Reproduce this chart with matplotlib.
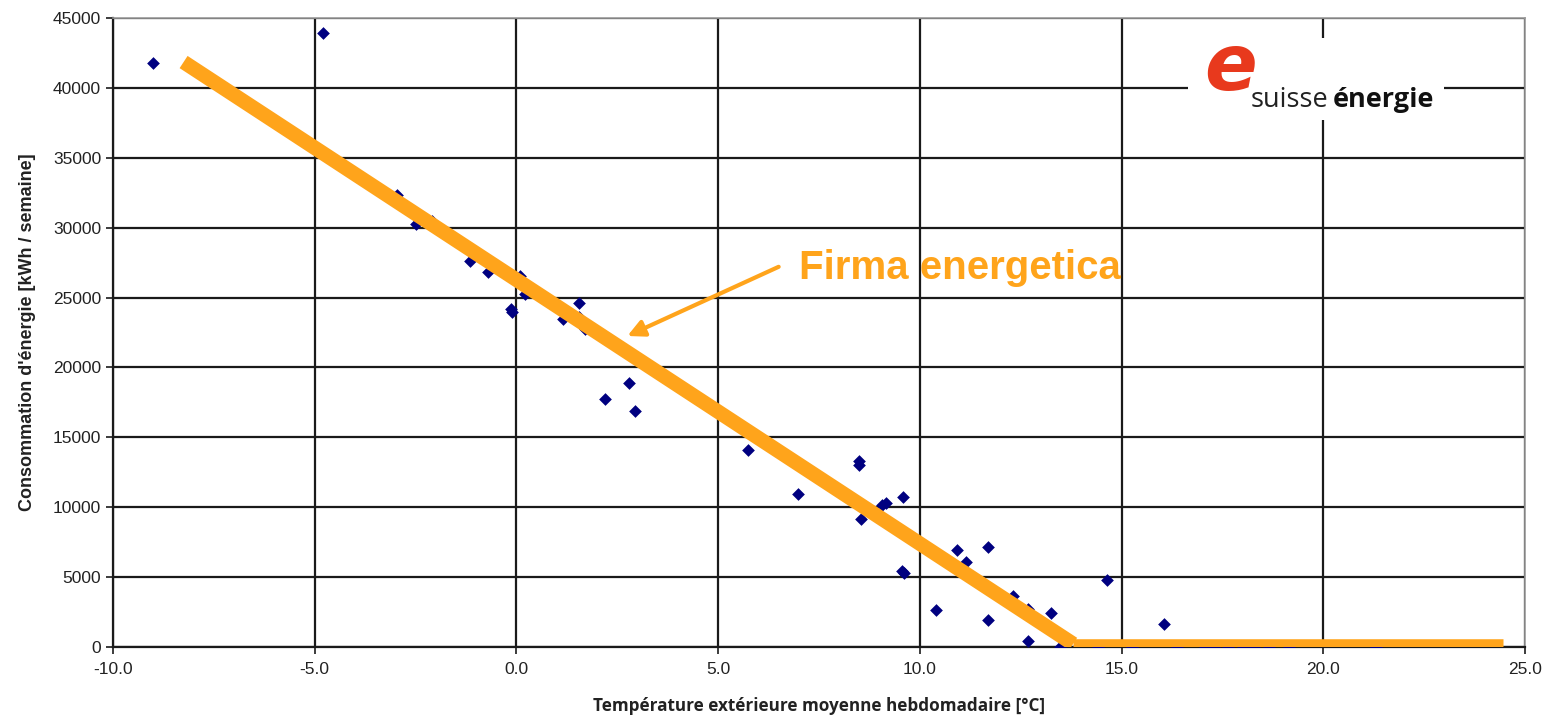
import matplotlib
matplotlib.use("Agg")
import matplotlib.pyplot as plt

# ---- data ----
temp_x = [-9.0, -4.8, -2.95, -2.5, -2.1, -1.15, -0.7, 0.1, 0.22, -0.13, -0.1,
          1.15, 1.55, 1.55, 1.7, 2.2, 2.8, 2.95, 5.75, 6.97, 8.5, 8.5, 8.55,
          9.05, 9.17, 9.57, 9.56, 9.6, 10.41, 10.92, 11.15, 11.7, 11.7, 12.32,
          12.69, 12.69, 13.25, 13.48, 14.42, 14.63, 16.04, 15.25, 16.37, 17.07,
          17.3, 17.65, 18.02, 18.28, 18.66, 19.16, 21.3]
cons_y = [41800, 43900, 32350, 30250, 30500, 27650, 26800, 26550, 25250, 24200,
          24000, 23450, 24600, 23600, 22750, 17750, 18900, 16850, 14100, 10950,
          13300, 13000, 9150, 10150, 10300, 10700, 5450, 5300, 2650, 6950, 6050,
          7150, 1950, 3650, 2750, 400, 2450, 0, 0, 4800, 1650, 0, 0, 0, 0, 0, 0,
          0, 0, 0, 0]

sig_x = [-8.25, 13.8, 24.45]
sig_y = [41850, 220, 220]

x_ticks = [-10.0, -5.0, 0.0, 5.0, 10.0, 15.0, 20.0, 25.0]
y_ticks = [0, 5000, 10000, 15000, 20000, 25000, 30000, 35000, 40000, 45000]

ORANGE = "#FFA41B"
NAVY = "#000080"

fig = plt.figure(figsize=(15.47, 7.2), dpi=100)
ax = fig.add_axes([113 / 1547, 1 - 647 / 720, (1525 - 113) / 1547, (647 - 18) / 720])

ax.set_xlim(-10, 25)
ax.set_ylim(0, 45000)
ax.set_xticks(x_ticks)
ax.set_xticklabels([f"{v:.1f}" for v in x_ticks])
ax.set_yticks(y_ticks)
ax.set_yticklabels([str(v) for v in y_ticks])

ax.grid(True, color="#1a1a1a", linewidth=1.6, zorder=0)
ax.set_axisbelow(True)
for s in ["left", "bottom"]:
    ax.spines[s].set_color("#1a1a1a")
    ax.spines[s].set_linewidth(1.6)
for s in ["top", "right"]:
    ax.spines[s].set_color("#999999")
    ax.spines[s].set_linewidth(1.2)

ax.tick_params(axis="both", direction="out", length=5, width=1.2, color="#1a1a1a",
               labelsize=12.5, labelcolor="#222222")
ax.tick_params(axis="x", pad=6)
for lab in ax.get_xticklabels() + ax.get_yticklabels():
    lab.set_family("Liberation Sans")

ax.scatter(temp_x, cons_y, marker="D", s=42, color=NAVY, zorder=3, linewidths=0)

ax.plot(sig_x[0:2], sig_y[0:2], color=ORANGE, linewidth=10.5,
        solid_capstyle="butt", zorder=4)
ax.plot(sig_x[1:3], sig_y[1:3], color=ORANGE, linewidth=7.6,
        solid_capstyle="butt", zorder=4)

ax.annotate("", xy=(2.75, 22250), xytext=(6.5, 27200),
            arrowprops=dict(arrowstyle="-|>", color=ORANGE, lw=3,
                            mutation_scale=25, shrinkA=0, shrinkB=0), zorder=5)
ax.text(7.0, 27100, "Firma energetica", color=ORANGE, fontsize=29,
        fontweight="bold", family="Liberation Sans", va="center", ha="left",
        zorder=5)

ax.set_xlabel("Température extérieure moyenne hebdomadaire [°C]", family="Open Sans",
              fontweight="bold", fontsize=12.3, color="#222222", labelpad=14)
ax.set_ylabel("Consommation d'énergie [kWh / semaine]", family="Liberation Sans",
              fontweight="bold", fontsize=13, color="#222222", labelpad=12)

# logo
fig.patches.append(plt.Rectangle((1188 / 1547, 1 - 120 / 720), (1444 - 1188) / 1547,
                                 (120 - 38) / 720, transform=fig.transFigure,
                                 facecolor="white", edgecolor="none", zorder=10))
fig.text(1231 / 1547, 1 - 68 / 720, "e", color="#E8391D", fontsize=56,
         fontweight="bold", style="italic", family="DejaVu Sans",
         ha="center", va="center", zorder=11)
fig.text(1251 / 1547, 1 - 107 / 720, "suisse", color="#222222", fontsize=19.5,
         family="Open Sans", ha="left", va="baseline", zorder=11)
fig.text(1333 / 1547, 1 - 107 / 720, "énergie", color="#111111", fontsize=19.5,
         fontweight="bold", family="Open Sans", ha="left", va="baseline", zorder=11)

fig.savefig("out.png", dpi=100)
